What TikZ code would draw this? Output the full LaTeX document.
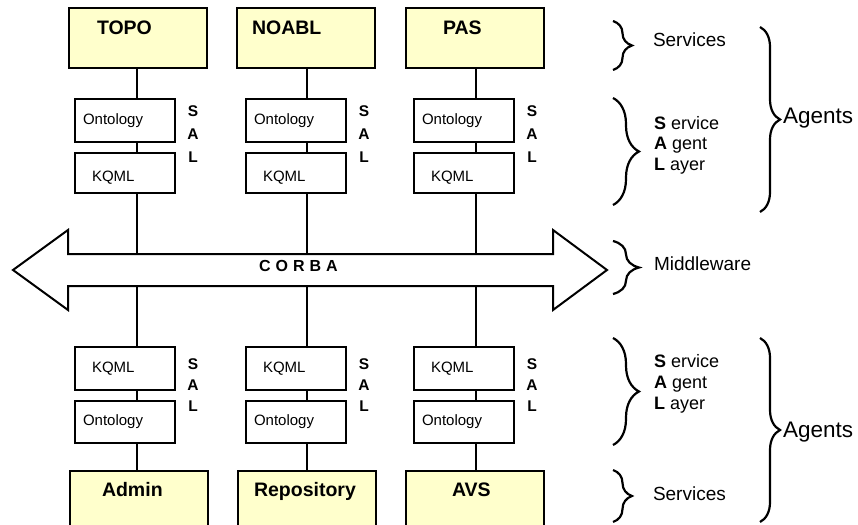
\documentclass[tikz,border=0pt]{standalone}
\usepackage{fontspec}
\setmainfont{Liberation Sans}
\usetikzlibrary{decorations.pathreplacing}
\definecolor{svcfill}{RGB}{255,255,204}
\begin{document}
\begin{tikzpicture}[x=1pt,y=-1pt,
  every node/.style={inner sep=0pt, outer sep=0pt},
  svc/.style={draw, line width=2pt, fill=svcfill, minimum width=138pt,
    minimum height=60pt, anchor=north west},
  layer/.style={draw, line width=2pt, fill=white, minimum width=100pt,
    anchor=north west, align=left, font=\fontsize{15}{18}\selectfont},
  onto/.style={layer, text width=84pt, inner xsep=8pt, minimum height=43pt},
  kq/.style={layer, text width=66pt, inner xsep=17pt, minimum height=42pt},
  svctext/.style={anchor=base west, font=\fontsize{19.5}{23}\selectfont\bfseries},
  sal/.style={align=center, font=\fontsize{15.5}{#1}\selectfont\bfseries},
  note/.style={anchor=west, font=\fontsize{19}{23}\selectfont},
  legend/.style={anchor=west, align=left, font=\fontsize{18}{#1}\selectfont},
  big/.style={anchor=west, font=\fontsize{22.5}{26}\selectfont},
  link/.style={line width=2pt},
  curly/.style={decorate, decoration={brace, amplitude=#1}, line width=2.2pt},
]
\useasboundingbox (0,0) rectangle (858,524);

% attachment points on the CORBA bus
\coordinate (c1t) at (137,254); \coordinate (c1b) at (137,286);
\coordinate (c2t) at (307,254); \coordinate (c2b) at (307,286);
\coordinate (c3t) at (476,254); \coordinate (c3b) at (476,286);

% upper agents: service, ontology, KQML
\node[svc] (s1) at (69,8) {};
\node[svc] (s2) at (237,8) {};
\node[svc] (s3) at (406,8) {};
\node[svctext] (s1l) at (97,35) {TOPO};
\node[svctext] (s2l) at (252,35) {NOABL};
\node[svctext] (s3l) at (443,35) {PAS};

\node[onto] (o1) at (75,99) {Ontology};
\node[onto] (o2) at (246,99) {Ontology};
\node[onto] (o3) at (414,99) {Ontology};
\node[kq, minimum height=40pt, text height=17.7pt, text depth=0pt] (k1) at (75,153) {KQML};
\node[kq, minimum height=40pt, text height=17.7pt, text depth=0pt] (k2) at (246,153) {KQML};
\node[kq, minimum height=40pt, text height=17.7pt, text depth=0pt] (k3) at (414,153) {KQML};

\node[sal=23] (sal1) at (193,134.5) {S\\A\\L};
\node[sal=23] (sal2) at (364,134.5) {S\\A\\L};
\node[sal=23] (sal3) at (532,134.5) {S\\A\\L};

% lower agents: KQML, ontology, service
\node[kq, minimum height=43pt] (kb1) at (75,347) {KQML};
\node[kq, minimum height=43pt] (kb2) at (246,347) {KQML};
\node[kq, minimum height=43pt] (kb3) at (414,347) {KQML};
\node[onto, minimum height=42pt] (ob1) at (75,401) {Ontology};
\node[onto, minimum height=42pt] (ob2) at (246,401) {Ontology};
\node[onto, minimum height=42pt] (ob3) at (414,401) {Ontology};

\node[svc] (sb1) at (70,471) {};
\node[svc] (sb2) at (238,471) {};
\node[svc] (sb3) at (406,471) {};
\node[svctext] (sb1l) at (102,496) {Admin};
\node[svctext] (sb2l) at (254,496) {Repository};
\node[svctext] (sb3l) at (452,496) {AVS};

\node[sal=21] (salb1) at (193,385) {S\\A\\L};
\node[sal=21] (salb2) at (364,385) {S\\A\\L};
\node[sal=21] (salb3) at (532,385) {S\\A\\L};

% vertical links
\foreach \i in {1,2,3}{
  \draw[link] (s\i.south -| c\i t) -- (o\i.north -| c\i t);
  \draw[link] (o\i.south -| c\i t) -- (k\i.north -| c\i t);
  \draw[link] (k\i.south -| c\i t) -- (c\i t);
  \draw[link] (c\i b) -- (kb\i.north -| c\i b);
  \draw[link] (kb\i.south -| c\i b) -- (ob\i.north -| c\i b);
  \draw[link] (ob\i.south -| c\i b) -- (sb\i.north -| c\i b);
}

% CORBA double arrow
\draw[line width=2pt, line join=miter, fill=white]
  (13,270) -- (68,230) -- (68,254) -- (553,254) -- (553,230) -- (607,270)
  -- (553,310) -- (553,286) -- (68,286) -- (68,310) -- cycle;
\node[anchor=base west, font=\fontsize{16}{19}\selectfont\bfseries] (corba) at (259,271)
  {C\hspace{5pt}O\hspace{5pt}R\hspace{5pt}B\hspace{5pt}A};

% braces and layer names
\draw[curly=19] (613,21) -- (613,70);
\node[note] (svcA) at (653,40) {Services};
\draw[curly=26] (613,98) -- (613,205);
\node[legend=20.5] (legA) at (654,145) {\textbf{S} ervice\\\textbf{A} gent\\\textbf{L} ayer};
\draw[curly=20] (760,27) -- (760,212);
\node[big] (agA) at (783,118) {Agents};

\draw[curly=26] (613,241) -- (613,294);
\node[note] (mw) at (654,264) {Middleware};

\draw[curly=26] (613,338) -- (613,445);
\node[legend=21] (legB) at (654,384) {\textbf{S} ervice\\\textbf{A} gent\\\textbf{L} ayer};
\draw[curly=19] (613,470) -- (613,522);
\node[note] (svcB) at (653,493.5) {Services};
\draw[curly=20] (760,338) -- (760,522);
\node[big] (agB) at (783,432.5) {Agents};
\end{tikzpicture}
\end{document}
